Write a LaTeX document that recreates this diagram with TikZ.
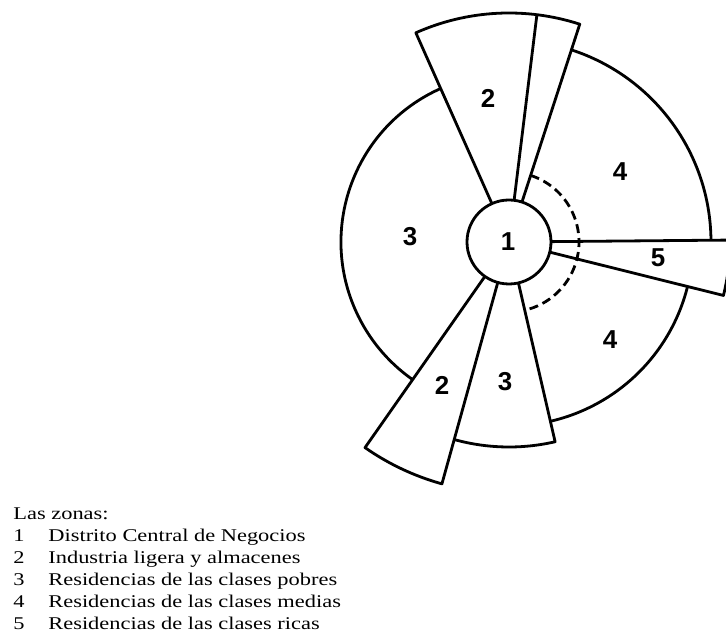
\documentclass[tikz,border=0pt]{standalone}
\usepackage{fontspec}
\newfontfamily\legendfont[FakeStretch=1.25]{Liberation Serif}
\newfontfamily\zonefont{Liberation Sans}
\usetikzlibrary{positioning}

\tikzset{
  zonelabel/.style={font=\zonefont\bfseries\fontsize{26}{26}\selectfont},
  legendtext/.style={anchor=base west,inner sep=0pt,
    font=\legendfont\fontsize{18}{22}\selectfont}
}

\begin{document}
\begin{tikzpicture}[x=1bp,y=1bp,line width=2.8bp,line join=round]
  \clip (-509,-395) rectangle (217,242);
  % sector 2, upper
  \draw (114:42) -- (114:229) arc[start angle=114,end angle=72,radius=229] -- (72:42);
  \draw (83:42) -- (83:229);
  % zone 3
  \draw (114:168) arc[start angle=114,end angle=235,radius=168];
  % sector 2 and 3, lower
  \draw (235:42) -- (235:251) arc[start angle=235,end angle=254.5,radius=251] -- (254.5:42);
  \draw (254.5:205) arc[start angle=254.5,end angle=283,radius=205] -- (283:42);
  % zone 4
  \draw (0.5:202) arc[start angle=0.5,end angle=72,radius=202];
  \draw (283:184) arc[start angle=283,end angle=346,radius=184];
  % sector 5
  \draw (0.5:42) -- (0.5:221) arc[start angle=0.5,end angle=-14,radius=221] -- (-14:42);
  \draw[dash pattern=on 9bp off 5bp] (72:70) arc[start angle=72,end angle=-77,radius=70];
  % center
  \draw[fill=white] (0,0) circle[radius=42];

  \node[zonelabel] (z1) at (-1,0) {1};
  \node[zonelabel] (z2a) at (-21,144) {2};
  \node[zonelabel] (z3a) at (-99,5) {3};
  \node[zonelabel] (z4a) at (111,70) {4};
  \node[zonelabel] (z5) at (149,-16) {5};
  \node[zonelabel] (z2b) at (-67,-143) {2};
  \node[zonelabel] (z3b) at (-4,-140) {3};
  \node[zonelabel] (z4b) at (101,-98) {4};

  \node[legendtext] (title) at (-497,-277) {Las zonas:};
  \foreach \n/\txt [count=\i] in {1/Distrito Central de Negocios,
      2/Industria ligera y almacenes,
      3/Residencias de las clases pobres,
      4/Residencias de las clases medias,
      5/Residencias de las clases ricas}{
    \node[legendtext] (num\i) at (-497,-277-22*\i) {\n};
    \node[legendtext] (txt\i) at (-462,-277-22*\i) {\txt};
  }
\end{tikzpicture}
\end{document}
